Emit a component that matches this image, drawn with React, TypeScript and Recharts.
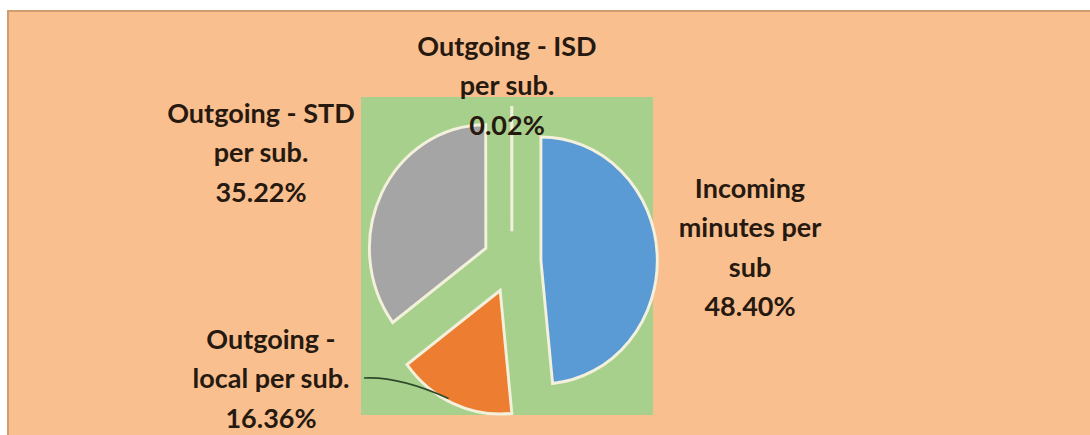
import React from "react";
import { PieChart, Pie, Cell } from "recharts";

// ---- data ----
const categories = [
  "Incoming minutes per sub",
  "Outgoing - local per sub.",
  "Outgoing - STD per sub.",
  "Outgoing - ISD per sub.",
];
const shares = [48.4, 16.36, 35.22, 0.02];
const labelLines = [
  ["Incoming", "minutes per", "sub"],
  ["Outgoing -", "local per sub."],
  ["Outgoing - STD", "per sub."],
  ["Outgoing - ISD", "per sub."],
];
const colors = ["#5B9BD5", "#ED7D31", "#A5A5A5", "#FFC000"];

const data = categories.map((name, i) => ({ name, value: shares[i] }));

// ---- layout ----
const W = 1090;
const H = 435;
const CX = 507;
const CY = 257;
const R = 120;
const EXPLODE = 30;
const SX = 0.97;
const SY = 1.03;
const LINE_H = 39.5;
const LABEL_POS = [
  { dx: 243, dy: -70 },
  { dx: -236, dy: 81 },
  { dx: -246, dy: -145 },
  { dx: 0, dy: -212 },
];
const LEADER_START = { dx: -143, dy: 121 };
const TEXT_COLOR = "#26190F";
const FONT = "Lato, 'Open Sans', sans-serif";
const RAD = Math.PI / 180;

const total = shares.reduce((a, b) => a + b, 0);
function midAngleOf(i: number) {
  const before = shares.slice(0, i).reduce((a, b) => a + b, 0);
  return 90 - ((before + shares[i] / 2) / total) * 360;
}

function renderLabels(props: any) {
  const { index, midAngle, outerRadius } = props;
  const pos = LABEL_POS[index];
  const x = CX + pos.dx;
  const y0 = CY + pos.dy;
  const lines = [...labelLines[index], `${shares[index].toFixed(2)}%`];
  let leader: React.ReactNode = null;
  if (index === 1) {
    const ex = CX + (outerRadius + EXPLODE) * Math.cos(-midAngle * RAD) * SX;
    const ey = CY + (outerRadius + EXPLODE) * Math.sin(-midAngle * RAD) * SY;
    const sx = CX + LEADER_START.dx;
    const sy = CY + LEADER_START.dy;
    leader = (
      <path
        d={`M ${sx} ${sy} Q ${sx + 35} ${sy - 2} ${ex} ${ey}`}
        fill="none"
        stroke="#2F4A2A"
        strokeWidth={1.6}
      />
    );
  }
  return (
    <g key={`lbl-${index}`}>
      {leader}
      <text
        x={x}
        y={y0}
        textAnchor="middle"
        fill={TEXT_COLOR}
        fontFamily={FONT}
        fontWeight={700}
        fontSize={27}
      >
        {lines.map((t, k) => (
          <tspan key={k} x={x} y={y0 + k * LINE_H} dominantBaseline="central">
            {t}
          </tspan>
        ))}
      </text>
    </g>
  );
}

export default function App() {
  return (
    <div
      style={{
        position: "absolute",
        left: 0,
        top: 0,
        width: W,
        height: H,
        background: "#FFFFFF",
        overflow: "hidden",
      }}
    >
      <div
        style={{
          position: "absolute",
          left: 7,
          top: 10,
          width: W - 7,
          height: H - 10,
          background: "#F9BF8F",
          borderTop: "2px solid #D09C72",
          borderLeft: "2px solid #D09C72",
          boxSizing: "border-box",
        }}
      />
      <div
        style={{
          position: "absolute",
          left: 361,
          top: 97,
          width: 292,
          height: 318,
          background: "#A8D08D",
        }}
      />
      <div
        style={{
          position: "absolute",
          left: 0,
          top: 0,
          transform: `scale(${SX}, ${SY})`,
          transformOrigin: `${CX}px ${CY}px`,
        }}
      >
        <PieChart width={W} height={H}>
          {data.map((_, i) => {
            const m = midAngleOf(i);
            const dx = EXPLODE * Math.cos(m * RAD);
            const dy = -EXPLODE * Math.sin(m * RAD);
            return (
              <Pie
                key={`pie-${i}`}
                data={data}
                dataKey="value"
                nameKey="name"
                cx={CX + dx}
                cy={CY + dy}
                outerRadius={R}
                startAngle={90}
                endAngle={-270}
                isAnimationActive={false}
                labelLine={false}
                label={false}
              >
                {data.map((_, j) => (
                  <Cell
                    key={`c-${j}`}
                    fill={j === i ? colors[j] : "transparent"}
                    stroke={j === i ? "#F3F0DC" : "none"}
                    strokeWidth={3}
                  />
                ))}
              </Pie>
            );
          })}
        </PieChart>
      </div>
      <div style={{ position: "absolute", left: 0, top: 0 }}>
        <PieChart width={W} height={H}>
          <Pie
            data={data}
            dataKey="value"
            nameKey="name"
            cx={CX}
            cy={CY}
            outerRadius={R}
            startAngle={90}
            endAngle={-270}
            isAnimationActive={false}
            labelLine={false}
            label={renderLabels}
          >
            {data.map((_, j) => (
              <Cell key={`t-${j}`} fill="transparent" stroke="none" />
            ))}
          </Pie>
        </PieChart>
      </div>
    </div>
  );
}
